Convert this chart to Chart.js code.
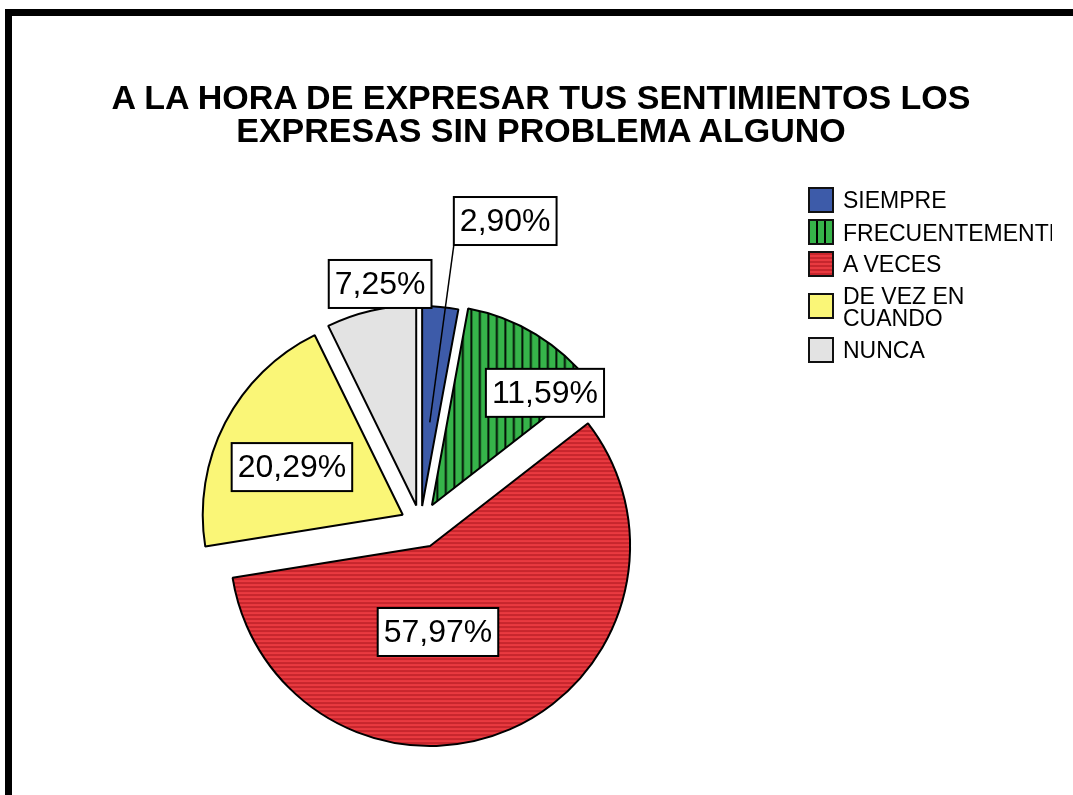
<!DOCTYPE html>
<html>
<head>
<meta charset="utf-8">
<script src="https://cdn.jsdelivr.net/npm/chart.js@4.4.1/dist/chart.umd.min.js"></script>
<style>
  html, body { margin: 0; padding: 0; background: #fff; }
  body { width: 1073px; height: 795px; position: relative; overflow: hidden; font-family: "Liberation Sans", Arial, sans-serif; }
  #c { position: absolute; left: 0; top: 0; }
  .bar { position: absolute; background: #000; }
  #title { position: absolute; left: 541px; top: 81px; transform: translateX(-50%); white-space: nowrap;
           font-weight: bold; font-size: 34px; line-height: 33px; text-align: center; color: #000; }
  #legend { position: absolute; left: 800px; top: 170px; width: 252px; height: 210px; overflow: hidden; }
  .lg-box { position: absolute; width: 22px; height: 22px; border: 2px solid #111; box-sizing: content-box; }
  .lg-txt { position: absolute; font-size: 23px; line-height: 22px; color: #000; white-space: normal; }
</style>
</head>
<body>
<div class="bar" style="left:5px;top:9px;width:1070px;height:7px;"></div>
<div class="bar" style="left:5px;top:9px;width:7px;height:790px;"></div>
<canvas id="c" width="1073" height="795"></canvas>
<div id="title"></div>
<div id="legend"></div>
<script>
// ---- data ----
const titleLines = ['A LA HORA DE EXPRESAR TUS SENTIMIENTOS LOS', 'EXPRESAS SIN PROBLEMA ALGUNO'];
const categories = ['SIEMPRE', 'FRECUENTEMENTE', 'A VECES', 'DE VEZ EN CUANDO', 'NUNCA'];
const percentages = [2.90, 11.59, 57.97, 20.29, 7.25];

// ---- styling / placement ----
const explode = [18, 22, 24, 20, 19];                    // px each slice is pulled out
const labelAngleShift = [10.4, 12.2, 14.3, -3.5, 3.5];   // degrees from slice middle
const labelRadius = [1.573, 0.904, 0.547, 0.703, 1.217]; // fraction of pie radius
const labelLeader = [true, false, false, false, false];
const legendTops = [17, 49, 81, 123, 167];               // box tops inside legend
const legendTextTops = [18.5, 51.5, 82.5, 114.5, 168.5];

function stripePattern(kind) {
  const p = document.createElement('canvas');
  const ctx = p.getContext('2d');
  if (kind === 'green') {
    p.width = 17; p.height = 4;
    ctx.fillStyle = '#36b44a'; ctx.fillRect(0, 0, 17, 4);
    ctx.fillStyle = '#000';
    ctx.fillRect(0, 0, 1.8, 4);
    ctx.fillRect(8.5, 0, 1.8, 4);
  } else {
    p.width = 4; p.height = 4;
    ctx.fillStyle = '#e93a40'; ctx.fillRect(0, 0, 4, 4);
    ctx.fillStyle = '#c7262d'; ctx.fillRect(0, 0, 4, 2);
  }
  return p;
}
const c = document.getElementById('c');
const ctx0 = c.getContext('2d');
const greenPat = ctx0.createPattern(stripePattern('green'), 'repeat');
const redPat = ctx0.createPattern(stripePattern('red'), 'repeat');
const fills = ['#3d5ba9', greenPat, redPat, '#faf677', '#e3e3e3'];

// ---- title ----
document.getElementById('title').innerHTML = titleLines.join('<br>');

// ---- legend ----
const lg = document.getElementById('legend');
const legendCss = ['#3d5ba9',
  'repeating-linear-gradient(90deg, #36b44a 0 6.5px, #000 6.5px 8px)',
  'repeating-linear-gradient(180deg, #c7262d 0 2px, #e93a40 2px 4px)',
  '#faf677', '#e3e3e3'];
categories.forEach((name, i) => {
  const b = document.createElement('div');
  b.className = 'lg-box';
  b.style.left = '8px'; b.style.top = legendTops[i] + 'px';
  b.style.background = legendCss[i];
  lg.appendChild(b);
  const t = document.createElement('div');
  t.className = 'lg-txt';
  t.style.left = '43px'; t.style.top = legendTextTops[i] + 'px';
  t.style.width = (i === 3 ? '140px' : '300px');
  t.textContent = name;
  lg.appendChild(t);
});

function fmt(v) { return v.toFixed(2).replace('.', ',') + '%'; }

// draw slices pulled out from the centre
const explodeDraw = {
  id: 'explodeDraw',
  beforeDatasetDraw(chart, args) {
    const ctx = chart.ctx;
    args.meta.data.forEach((arc, i) => {
      const mid = (arc.startAngle + arc.endAngle) / 2;
      ctx.save();
      ctx.translate(Math.cos(mid) * explode[i], Math.sin(mid) * explode[i]);
      arc.draw(ctx, chart.chartArea);
      ctx.restore();
    });
    return false;
  }
};

const boxLabels = {
  id: 'boxLabels',
  afterDatasetsDraw(chart) {
    const ctx = chart.ctx;
    const meta = chart.getDatasetMeta(0);
    ctx.save();
    ctx.font = '32px "Liberation Sans", Arial, sans-serif';
    ctx.textAlign = 'center';
    ctx.textBaseline = 'middle';
    meta.data.forEach((arc, i) => {
      const mid = (arc.startAngle + arc.endAngle) / 2;
      const R = arc.outerRadius;
      const a = mid + labelAngleShift[i] * Math.PI / 180;
      const lx = arc.x + Math.cos(a) * labelRadius[i] * R;
      const ly = arc.y + Math.sin(a) * labelRadius[i] * R;
      const txt = fmt(percentages[i]);
      const w = ctx.measureText(txt).width + 12;
      const h = 48;
      const bx = lx - w / 2, by = ly - h / 2;
      if (labelLeader[i]) {
        const ax = arc.x + Math.cos(mid) * (explode[i] + 0.42 * R);
        const ay = arc.y + Math.sin(mid) * (explode[i] + 0.42 * R);
        ctx.beginPath();
        ctx.moveTo(bx, by + h);
        ctx.lineTo(ax, ay);
        ctx.lineWidth = 1.5;
        ctx.strokeStyle = '#000';
        ctx.stroke();
      }
      ctx.fillStyle = '#fff';
      ctx.fillRect(bx, by, w, h);
      ctx.lineWidth = 2;
      ctx.strokeStyle = '#000';
      ctx.strokeRect(bx, by, w, h);
      ctx.fillStyle = '#000';
      ctx.fillText(txt, lx, ly + 1);
    });
    ctx.restore();
  }
};

new Chart(c, {
  type: 'pie',
  data: {
    labels: categories,
    datasets: [{
      data: percentages,
      backgroundColor: fills,
      borderColor: '#000',
      borderWidth: 2,
      hoverOffset: 0
    }]
  },
  options: {
    responsive: false,
    animation: false,
    devicePixelRatio: 1,
    radius: 200,
    layout: { padding: { left: 0, right: 232, top: 253, bottom: 0 } },
    plugins: { legend: { display: false }, title: { display: false }, tooltip: { enabled: false } },
    events: []
  },
  plugins: [explodeDraw, boxLabels]
});
</script>
</body>
</html>
